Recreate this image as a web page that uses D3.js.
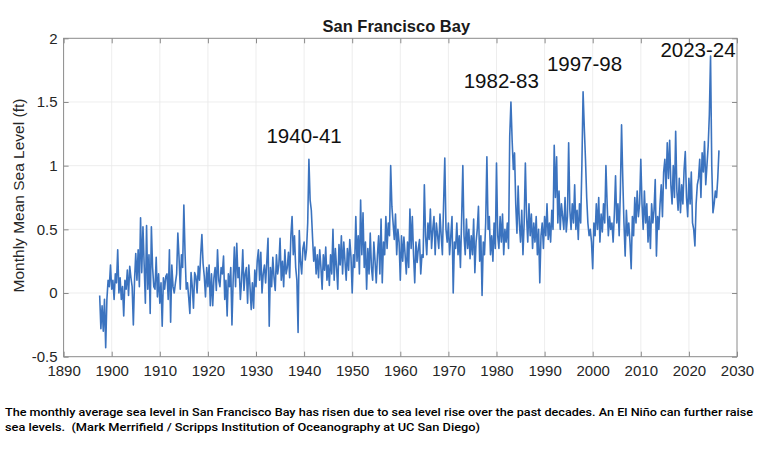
<!DOCTYPE html>
<html>
<head>
<meta charset="utf-8">
<script src="https://cdn.jsdelivr.net/npm/d3@7"></script>
<style>
body { margin:0; background:#fff; }
svg { display:block; }
</style>
</head>
<body>
<svg width="757" height="453"></svg>
<script>
// quarterly samples, starting mid-1897
var startYear = 1897.5;
var step = 0.25;
var seaLevel = [
	-0.02, -0.28,
	-0.10, -0.30, -0.05, -0.43,
	-0.05, 0.10, 0.05, 0.22,
	0.03, 0.10, -0.05, 0.15,
	0.08, 0.34, 0.00, 0.12,
	-0.05, 0.05, -0.18, 0.10,
	0.03, 0.18, -0.02, 0.21,
	0.12, 0.05, -0.25, 0.10,
	0.31, 0.10, 0.34, 0.05,
	0.59, 0.16, 0.52, 0.22,
	-0.08, 0.53, 0.03, 0.30,
	-0.16, 0.52, 0.20, 0.05,
	0.03, 0.28, -0.03, 0.15,
	-0.08, 0.08, -0.26, 0.12,
	0.03, 0.13, 0.15, -0.05,
	0.34, -0.23, 0.22, 0.05,
	0.00, 0.08, 0.15, 0.47,
	0.28, 0.03, 0.30, 0.20,
	0.69, 0.31, 0.03, 0.08,
	-0.03, -0.16, 0.16, 0.05,
	-0.12, 0.16, 0.13, 0.00,
	0.21, 0.10, 0.30, 0.46,
	0.23, 0.13, -0.03, 0.20,
	0.05, 0.22, -0.10, 0.15,
	-0.10, 0.12, 0.20, 0.02,
	0.34, 0.10, 0.05, 0.20,
	0.15, 0.29, -0.05, 0.10,
	-0.18, 0.15, 0.05, 0.20,
	-0.25, 0.10, 0.36, 0.05,
	0.39, 0.12, 0.20, -0.05,
	0.10, 0.34, 0.02, 0.15,
	0.20, -0.08, 0.22, 0.05,
	-0.13, 0.08, -0.12, 0.18,
	0.05, 0.25, 0.34, 0.10,
	0.32, 0.00, 0.15, 0.22,
	0.08, 0.25, 0.43, -0.26,
	0.20, 0.05, 0.28, 0.12,
	0.02, 0.30, 0.15, 0.22,
	0.43, 0.10, 0.25, 0.05,
	0.34, 0.15, 0.20, 0.32,
	0.12, 0.45, 0.60, 0.30,
	0.45, 0.20, 0.10, -0.31,
	0.49, 0.25, 0.15, 0.35,
	0.40, 0.26, 0.34, 0.55,
	1.05, 0.73, 0.65, 0.44,
	0.25, 0.36, 0.15, 0.30,
	0.12, 0.34, 0.20, 0.03,
	0.30, 0.18, 0.36, 0.10,
	0.22, 0.06, 0.30, 0.15,
	0.50, 0.10, 0.35, 0.20,
	0.03, 0.38, 0.22, 0.45,
	0.15, 0.40, 0.25, 0.10,
	0.35, 0.18, 0.42, 0.28,
	0.00, 0.30, 0.20, 0.60,
	0.25, 0.45, 0.15, 0.73,
	0.30, 0.63, 0.20, 0.40,
	0.03, 0.35, 0.15, 0.47,
	0.20, 0.10, 0.40, 0.25,
	0.08, 0.30, 0.45, 0.15,
	0.58, 0.08, 0.40, 0.30,
	0.60, 0.35, 0.55, 0.45,
	1.00, 0.68, 0.55, 0.42,
	0.62, 0.30, 0.50, 0.40,
	0.10, 0.45, 0.25, 0.44,
	0.30, 0.15, 0.40, 0.20,
	0.66, 0.35, 0.60, 0.30,
	0.08, 0.40, 0.24, 0.35,
	0.42, 0.15, 0.30, 0.28,
	0.85, 0.45, 0.30, 0.55,
	0.42, 0.66, 0.35, 0.50,
	0.60, 0.30, 0.55, 0.45,
	0.35, 0.62, 0.45, 0.30,
	0.70, 1.06, 0.50, 0.40,
	0.55, 0.30, 0.45, 0.60,
	0.00, 0.40, 0.35, 0.55,
	0.30, 0.45, 0.20, 0.58,
	1.00, 0.45, 0.30, 0.58,
	0.35, 0.50, 0.27, 0.45,
	0.30, 0.58, 0.16, 0.40,
	0.50, 0.68, 0.25, 0.45,
	-0.02, 0.40, 0.30, 0.55,
	1.07, 0.50, 0.60, 0.30,
	0.45, 0.25, 0.55, 0.35,
	1.02, 0.45, 0.35, 0.60,
	0.40, 0.62, 0.30, 0.50,
	0.40, 0.55, 0.35, 1.23,
	1.50, 1.20, 0.97, 1.10,
	0.70, 0.47, 0.84, 0.55,
	0.40, 0.65, 0.30, 0.55,
	1.02, 0.60, 0.40, 0.70,
	0.45, 0.62, 0.35, 0.55,
	0.40, 0.60, 0.30, 0.50,
	0.08, 0.45, 0.55, 0.35,
	0.60, 0.45, 0.70, 0.42,
	0.55, 0.40, 0.65, 0.50,
	1.16, 0.75, 1.07, 0.55,
	0.80, 0.50, 0.70, 0.60,
	0.50, 0.75, 0.48, 0.60,
	1.18, 0.65, 0.50, 0.70,
	0.55, 0.85, 0.50, 0.65,
	0.42, 0.70, 0.55, 1.00,
	1.58, 1.30, 1.05, 0.75,
	0.55, 0.45, 0.50, 0.40,
	0.19, 0.55, 0.45, 0.70,
	0.50, 0.75, 0.40, 0.62,
	0.48, 0.70, 0.55, 1.00,
	0.70, 0.45, 0.60, 0.50,
	0.55, 0.40, 0.62, 0.92,
	0.55, 0.70, 0.45, 0.80,
	1.32, 0.90, 0.55, 0.29,
	0.65, 0.45, 0.55, 0.40,
	0.19, 0.60, 0.45, 0.75,
	0.55, 0.80, 0.60, 0.70,
	1.05, 0.70, 0.50, 0.80,
	0.55, 0.70, 0.40, 0.60,
	0.35, 0.70, 0.55, 0.65,
	0.89, 0.29, 0.60, 0.50,
	0.70, 0.85, 0.60, 0.95,
	1.05, 0.82, 1.18, 0.90,
	1.20, 0.85, 0.70, 1.00,
	0.75, 1.27, 0.80, 0.65,
	0.90, 0.63, 0.85, 0.70,
	0.97, 1.11, 0.75, 0.60,
	0.90, 0.70, 0.95, 0.55,
	0.50, 0.37, 0.70, 0.85,
	0.90, 1.05, 0.75, 1.10,
	0.95, 1.19, 0.85, 1.00,
	1.15, 1.40, 1.86, 1.00,
	0.63, 0.70, 0.80, 0.75,
	0.90, 1.12
];

var xTicks = [1890,1900,1910,1920,1930,1940,1950,1960,1970,1980,1990,2000,2010,2020,2030];
var yTicks = [-0.5,0,0.5,1,1.5,2];
var events = ["1940-41","1982-83","1997-98","2023-24"];
var eventYear = [1940,1981,1998.3,2021.9];
var eventLevel = [1.18,1.61,1.74,1.85];

var titleText = "San Francisco Bay";
var yLabel = "Monthly Mean Sea Level (ft)";
var caption1 = "The monthly average sea level in San Francisco Bay has risen due to sea level rise over the past decades. An El Niño can further raise";
var caption2 = "sea levels.  (Mark Merrifield / Scripps Institution of Oceanography at UC San Diego)";

window.onload = function()
{
	var left=63.6, right=737, top=38.3, bottom=356.7;
	var font="'Liberation Sans', Arial, sans-serif";

	var x=d3.scaleLinear().domain([1890,2030]).range([left,right]);
	var y=d3.scaleLinear().domain([-0.5,2]).range([bottom,top]);

	var svg=d3.select("svg");

	var data=seaLevel.map((v,i)=>({year:startYear+i*step, level:v}));

	// grid
	svg.append("g").selectAll("line").data(xTicks.slice(1,-1)).enter().append("line")
		.attr("x1",d=>x(d)).attr("x2",d=>x(d)).attr("y1",top).attr("y2",bottom)
		.attr("stroke","#e8e8e8").attr("stroke-width",0.8);
	svg.append("g").selectAll("line").data(yTicks.slice(1,-1)).enter().append("line")
		.attr("y1",d=>y(d)).attr("y2",d=>y(d)).attr("x1",left).attr("x2",right)
		.attr("stroke","#e8e8e8").attr("stroke-width",0.8);

	// the series
	var line=d3.line().x(d=>x(d.year)).y(d=>y(d.level));
	svg.append("path").datum(data)
		.attr("d",line)
		.attr("fill","none")
		.attr("stroke","#3b73bf")
		.attr("stroke-width",1.6)
		.attr("stroke-linejoin","round");

	// axes, ticks pointing inside
	var xaxis=d3.axisBottom(x).tickValues(xTicks).tickFormat(d3.format("d"))
		.tickSizeInner(-5).tickSizeOuter(0).tickPadding(9);
	var gx=svg.append("g").attr("transform","translate(0,"+bottom+")").call(xaxis);
	var yaxis=d3.axisLeft(y).tickValues(yTicks).tickFormat(d=>d)
		.tickSizeInner(-5).tickSizeOuter(0).tickPadding(6);
	var gy=svg.append("g").attr("transform","translate("+left+",0)").call(yaxis);
	var gt=svg.append("g").attr("transform","translate(0,"+top+")")
		.call(d3.axisTop(x).tickValues(xTicks).tickFormat("").tickSizeInner(-5).tickSizeOuter(0));
	var gr=svg.append("g").attr("transform","translate("+right+",0)")
		.call(d3.axisRight(y).tickValues(yTicks).tickFormat("").tickSizeInner(-5).tickSizeOuter(0));

	[gx,gy,gt,gr].forEach(function(g){
		g.select(".domain").remove();
		g.selectAll("line").attr("stroke","#8a8a8a");
		g.selectAll("text").attr("fill","#262626").style("font-family",font).style("font-size","15px");
	});

	svg.append("rect").attr("x",left).attr("y",top)
		.attr("width",right-left).attr("height",bottom-top)
		.attr("fill","none").attr("stroke","#8a8a8a").attr("stroke-width",1);

	// labels
	svg.append("text").attr("x",(left+right)/2-4).attr("y",32)
		.attr("text-anchor","middle").text(titleText)
		.style("font-family",font).style("font-size","16.5px").style("font-weight","bold").attr("fill","#1a1a1a");

	svg.append("text").attr("transform","translate(24,"+((top+bottom)/2-2)+") rotate(-90)")
		.attr("text-anchor","middle").text(yLabel)
		.style("font-family",font).style("font-size","15.5px").attr("fill","#262626");

	svg.selectAll(".ev").data(events).enter().append("text").classed("ev",true)
		.attr("x",(d,i)=>x(eventYear[i])).attr("y",(d,i)=>y(eventLevel[i]))
		.attr("text-anchor","middle").text(d=>d)
		.style("font-family",font).style("font-size","20.5px").attr("fill","#111");

	svg.append("text").attr("x",5).attr("y",416).text(caption1)
		.attr("textLength",748).attr("lengthAdjust","spacingAndGlyphs")
		.style("font-family","Roboto, sans-serif").style("font-size","11.5px").style("font-weight","500");
	svg.append("text").attr("x",5).attr("y",430.5).text(caption2)
		.style("white-space","pre")
		.attr("textLength",475).attr("lengthAdjust","spacingAndGlyphs")
		.style("font-family","Roboto, sans-serif").style("font-size","11.5px").style("font-weight","500");
}
</script>
</body>
</html>
